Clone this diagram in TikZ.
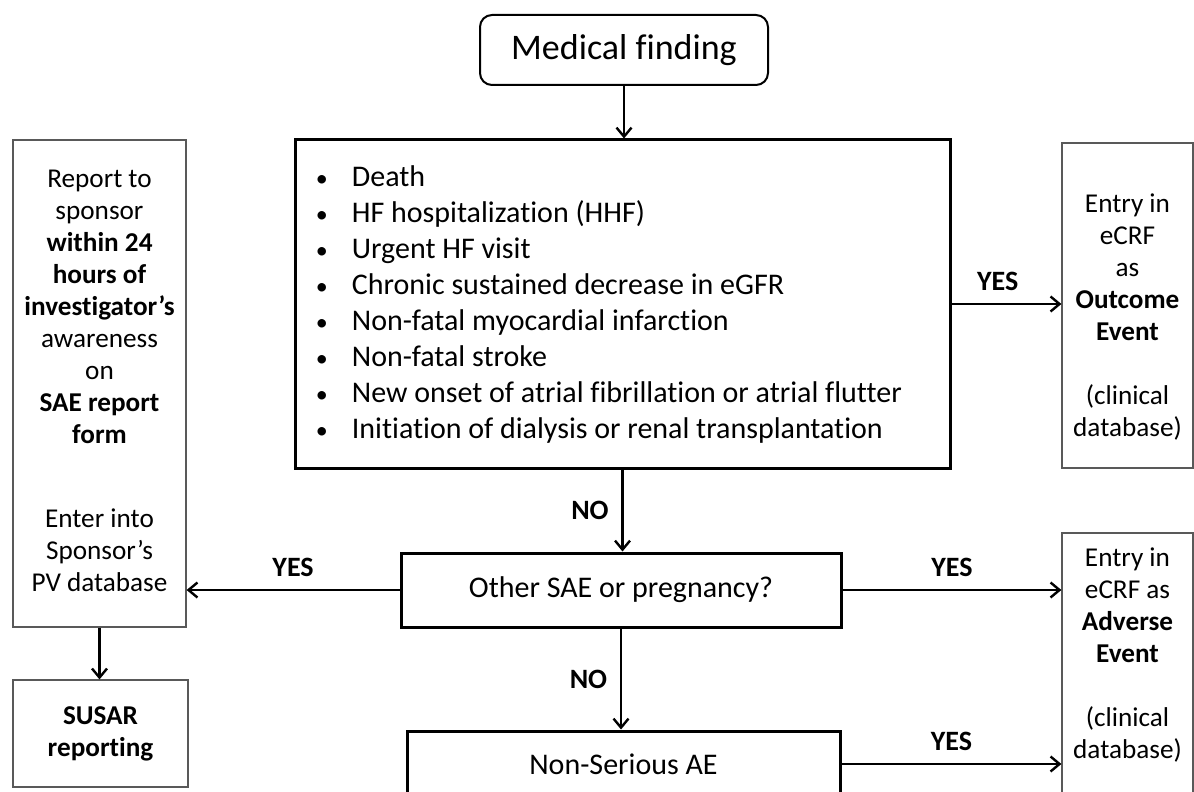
\documentclass[tikz,border=0pt]{standalone}
\usepackage{fontspec}
\setmainfont{Carlito}[Ligatures=NoCommon]
\usetikzlibrary{positioning,arrows.meta}
\tikzstyle{side} = [rectangle,draw=black!65,line width=0.6pt,inner sep=0pt]
\tikzstyle{sidetext} = [align=center,inner sep=0pt,font=\fontsize{13.6}{16}\selectfont]
\newcommand{\listdot}{\makebox[19pt][l]{\hspace{1pt}\scalebox{0.8}{\textbullet}}}

\begin{document}
\begin{tikzpicture}
		[
		x=0.5pt,y=-0.5pt,
		block/.style={
		draw,
		rectangle,
		line width=1.5pt,
		inner sep=0pt,
		font=\fontsize{15}{18}\selectfont},
		answer/.style={font=\fontsize{14}{16}\selectfont\bfseries},
		arrow/.style={line width=1.2pt,-{Straight Barb[length=4.5pt,width=7.5pt]}}
		]
		\useasboundingbox (0,0) rectangle (1194,792);
		\clip (0,0) rectangle (1194,792);
		\node[block,fill=white,rounded corners=6pt,line width=1pt,minimum width=144pt,minimum height=35pt,font=\fontsize{18}{21.6}\selectfont](medical_finding) at (624,50) {Medical finding};
		\node[block,fill=white,minimum width=327.5pt,minimum height=164pt](endpoints) at (622.5,304) {};
		\node[align=left,inner sep=0pt,font=\fontsize{15}{18}\selectfont,right=10pt of endpoints.west](endpoint_list) {\listdot Death\\
		\listdot HF hospitalization (HHF)\\
		\listdot Urgent HF visit\\
		\listdot Chronic sustained decrease in eGFR\\
		\listdot Non-fatal myocardial infarction\\
		\listdot Non-fatal stroke\\
		\listdot New onset of atrial fibrillation or atrial flutter\\
		\listdot Initiation of dialysis or renal transplantation};
		\node[block,fill=white,minimum width=220pt,minimum height=37pt](other_sae) at (621,590) {Other SAE or pregnancy?};
		\node[block,fill=white,minimum width=216.5pt,minimum height=33pt](non_serious) at (623.5,764) {Non-Serious AE};
		\node[side,minimum width=86.5pt,minimum height=243.5pt](report_box) at (99.5,383.5) {};
		\node[sidetext](report_text) at (99.5,381) {Report to\\sponsor\\\textbf{within 24}\\\textbf{hours of}\\\textbf{investigator’s}\\awareness\\on\\\textbf{SAE report}\\\textbf{form}\\[26pt]Enter into\\Sponsor’s\\PV database};
		\node[side,sidetext,draw=black!65,minimum width=87.5pt,minimum height=53.5pt](susar) at (100.5,733.5) {\textbf{SUSAR}\\\textbf{reporting}};
		\node[side,minimum width=65.5pt,minimum height=162.5pt](outcome_box) at (1127.5,305.5) {};
		\node[sidetext](outcome_text) at (1127.5,317.5) {Entry in\\eCRF\\as\\\textbf{Outcome}\\\textbf{Event}\\[16pt](clinical\\database)};
		\node[side,minimum width=65.5pt,minimum height=133.5pt](adverse_box) at (1127.5,666.5) {};
		\node[sidetext](adverse_text) at (1127.5,655) {Entry in\\eCRF as\\\textbf{Adverse}\\\textbf{Event}\\[16pt](clinical\\database)};
		\draw[arrow] (medical_finding.south) -- (medical_finding.south |- endpoints.north);
		\draw[arrow] (endpoints.east) -- node[answer,above=2.5pt,pos=0.42]{YES} (outcome_box.west |- endpoints.east);
		\draw[arrow] (endpoints.south) -- node[answer,left=3pt]{NO} (endpoints.south |- other_sae.north);
		\draw[arrow] (other_sae.west) -- node[answer,above=2.5pt]{YES} (report_box.east |- other_sae.west);
		\draw[arrow] (other_sae.east) -- node[answer,above=2.5pt]{YES} (adverse_box.west |- other_sae.east);
		\draw[arrow] (other_sae.south) -- node[answer,left=3pt]{NO} (other_sae.south |- non_serious.north);
		\draw[arrow] (non_serious.east) -- node[answer,above=2.5pt]{YES} (adverse_box.west |- non_serious.east);
		\draw[arrow] (report_box.south) -- (report_box.south |- susar.north);
		\end{tikzpicture}
\end{document}
